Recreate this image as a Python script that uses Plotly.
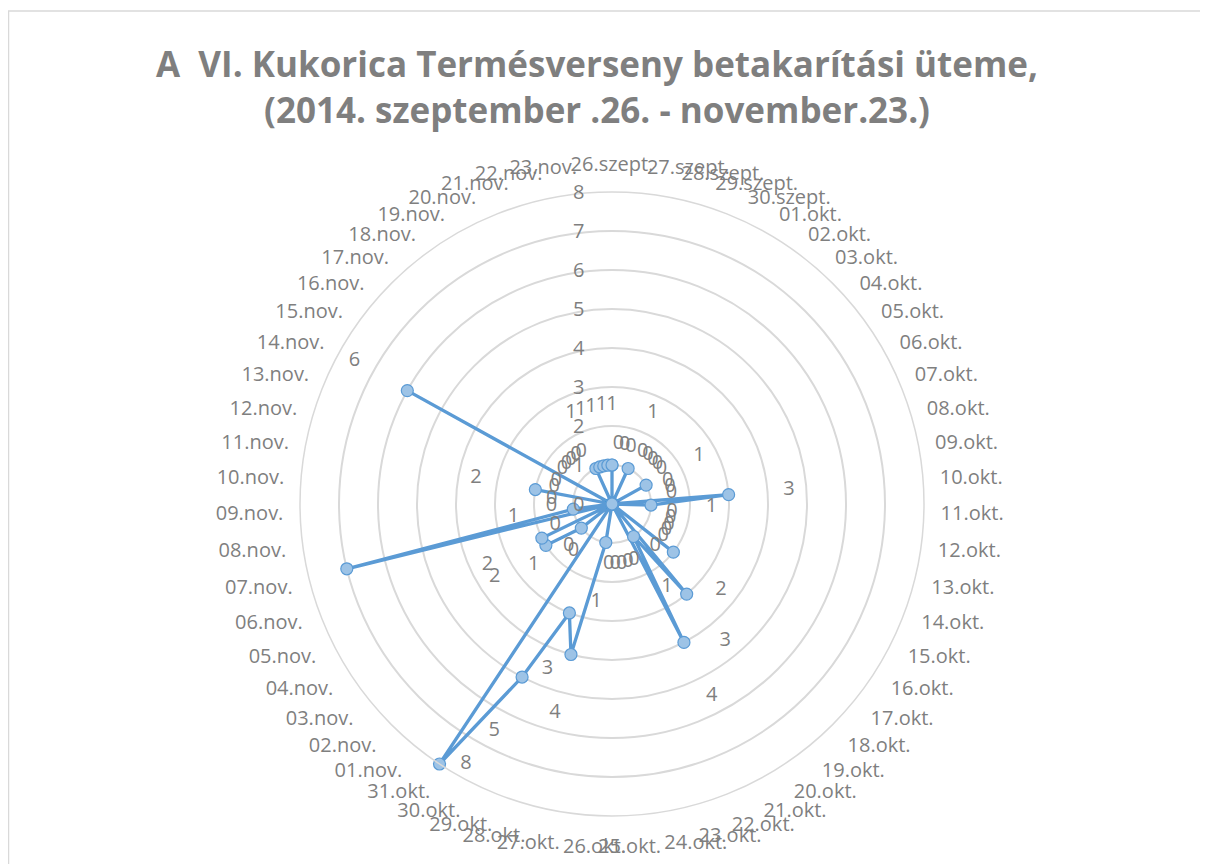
import plotly.graph_objects as go

categories = (
    ["26.szept.", "27.szept.", "28.szept.", "29.szept.", "30.szept."]
    + ["%02d.okt." % d for d in range(1, 32)]
    + ["%02d.nov." % d for d in range(1, 24)]
)

values = [
    1, 0, 0, 0, 1,                       # 26-30 szept
    0, 0, 0, 0, 0, 1, 0, 0, 0, 3,        # 01-10 okt
    1, 0, 0, 0, 0, 0, 2, 0, 3, 1,        # 11-20 okt
    4, 0, 0, 0, 0, 0, 1, 4, 3, 5, 8,     # 21-31 okt
    0, 0, 1, 2, 2, 0, 7, 1, 0, 0,        # 01-10 nov
    2, 0, 0, 6, 0, 0, 0, 0, 0, 1,        # 11-20 nov
    1, 1, 1,                             # 21-23 nov
]

title_lines = [
    "A  VI. Kukorica Termésverseny betakarítási üteme,",
    "(2014. szeptember .26. - november.23.)",
]

radial_ticks = list(range(0, 9))

GRAY = "#7f7f7f"
LINE = "#5b9bd5"
GRID = "#d9d9d9"
FONT = "Open Sans"
RMAX = 8

label_offset = 1.55
label_r = [v + label_offset if v < RMAX else v for v in values]
label_pos = ["middle center" if v < RMAX else "middle right" for v in values]
label_txt = [str(v) if v < RMAX else "    " + str(v) for v in values]

fig = go.Figure()

fig.add_trace(go.Scatterpolar(
    r=values + [values[0]],
    theta=categories + [categories[0]],
    mode="lines+markers",
    line=dict(color=LINE, width=3.3),
    marker=dict(size=12, color="#9dc3e6", line=dict(color=LINE, width=1.2)),
    showlegend=False,
    cliponaxis=False,
))

fig.add_trace(go.Scatterpolar(
    r=label_r,
    theta=categories,
    mode="text",
    text=label_txt,
    textfont=dict(family=FONT, size=20, color=GRAY),
    textposition=label_pos,
    showlegend=False,
    cliponaxis=False,
))

W, H = 1208, 864
fig.update_layout(
    width=W,
    height=H,
    paper_bgcolor="white",
    plot_bgcolor="white",
    margin=dict(l=0, r=0, t=0, b=0),
    annotations=[dict(
        text="<b>" + "<br>".join(title_lines) + "</b>",
        xref="paper", yref="paper",
        x=589 / W, xanchor="center",
        y=1 - 30 / H, yanchor="top",
        showarrow=False,
        font=dict(family=FONT, size=35, color=GRAY),
    )],
    polar=dict(
        domain=dict(x=[292 / W, 916 / W], y=[56 / H, 680 / H]),
        bgcolor="white",
        gridshape="circular",
        angularaxis=dict(
            type="category",
            categoryorder="array",
            categoryarray=categories,
            rotation=90,
            direction="clockwise",
            showgrid=False,
            showline=True,
            linecolor=GRID,
            linewidth=1.5,
            ticks="outside",
            ticklen=12,
            tickcolor="rgba(0,0,0,0)",
            tickfont=dict(family=FONT, size=20, color=GRAY),
        ),
        radialaxis=dict(
            range=[0, RMAX],
            tickvals=radial_ticks,
            angle=90,
            tickangle=90,
            side="counterclockwise",
            showline=False,
            ticks="outside",
            ticklen=20,
            tickcolor="rgba(0,0,0,0)",
            showgrid=True,
            gridcolor=GRID,
            gridwidth=1.5,
            tickfont=dict(family=FONT, size=20, color=GRAY),
        ),
    ),
    shapes=[dict(
        type="rect", xref="paper", yref="paper",
        x0=0.5 / W, x1=1.01, y0=-0.01, y1=1 - 3 / H,
        line=dict(color=GRID, width=1.5),
        fillcolor="rgba(0,0,0,0)",
        layer="below",
    )],
)

fig.write_html("out.html")
